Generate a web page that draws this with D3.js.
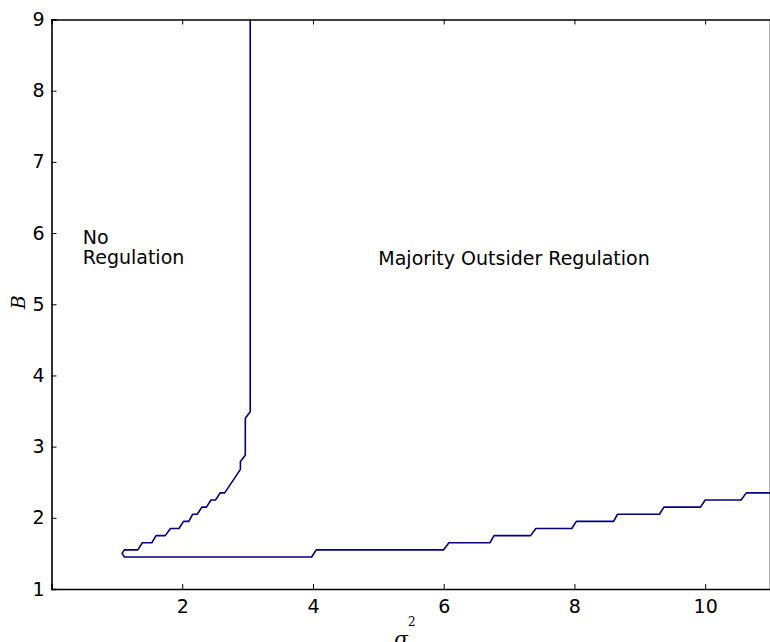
<!DOCTYPE html>
<html>
<head>
<meta charset="utf-8">
<script src="https://cdn.jsdelivr.net/npm/d3@7"></script>
<style>
  body { margin: 0; background: #fff; }
  svg { display: block; font-family: "DejaVu Sans", sans-serif; }
</style>
</head>
<body>
<div id="host"></div>
<script>
// contour boundary (sigma^2, B)
const sigmaVals = [3.04, 3.04, 2.965, 2.965, 2.89, 2.89, 2.65, 2.58, 2.51, 2.44, 2.37, 2.30, 2.23, 2.16, 2.10, 2.02, 1.95, 1.82, 1.74, 1.60, 1.535, 1.39, 1.32, 1.115, 1.08, 1.115, 3.98, 4.05, 6.0, 6.08, 6.71, 6.77, 7.33, 7.41, 7.96, 8.03, 8.6, 8.66, 9.3, 9.37, 9.93, 10.0, 10.55, 10.63, 11.0];
const bVals = [9.0, 3.49, 3.40, 2.88, 2.79, 2.68, 2.35, 2.35, 2.25, 2.25, 2.15, 2.15, 2.05, 2.05, 1.95, 1.95, 1.85, 1.85, 1.75, 1.75, 1.65, 1.65, 1.55, 1.55, 1.50, 1.45, 1.45, 1.55, 1.55, 1.65, 1.65, 1.75, 1.75, 1.85, 1.85, 1.95, 1.95, 2.05, 2.05, 2.15, 2.15, 2.25, 2.25, 2.35, 2.35];

const xTicks = [2, 4, 6, 8, 10];
const yTicks = [1, 2, 3, 4, 5, 6, 7, 8, 9];

const regionLabels = [
  { lines: ['No', 'Regulation'], sigma: 0.48, b: 5.84 },
  { lines: ['Majority Outsider Regulation'], sigma: 5.0, b: 5.55 },
];

const width = 770, height = 642;
const margin = { top: 19.5, right: 0, bottom: 53, left: 51.5 };

const svg = d3.select('#host').append('svg')
  .attr('width', width)
  .attr('height', height);

const x = d3.scaleLinear().domain([0, 11]).range([margin.left, width - margin.right + 0.5]);
const y = d3.scaleLinear().domain([1, 9]).range([height - margin.bottom, margin.top]);

// contour line
const pts = sigmaVals.map((s, i) => [s, bVals[i]]);
svg.append('path')
  .datum(pts)
  .attr('fill', 'none')
  .attr('stroke', '#00007f')
  .attr('stroke-width', 1.6)
  .attr('stroke-linejoin', 'round')
  .attr('d', d3.line().x(d => x(d[0])).y(d => y(d[1])));

// axes with inward ticks (matplotlib style)
const fs = 19;
const bottomAx = svg.append('g')
  .attr('transform', `translate(0,${y(1)})`)
  .call(d3.axisBottom(x).tickValues(xTicks).tickSize(-5).tickPadding(11));
const topAx = svg.append('g')
  .attr('transform', `translate(0,${y(9)})`)
  .call(d3.axisTop(x).tickValues(xTicks).tickSize(-5).tickFormat(''));
const leftAx = svg.append('g')
  .attr('transform', `translate(${x(0)},0)`)
  .call(d3.axisLeft(y).tickValues(yTicks).tickSize(-5).tickPadding(7));

[bottomAx, topAx, leftAx].forEach(g => {
  g.select('.domain').attr('stroke', '#000').attr('stroke-width', 1.6);
  g.selectAll('.tick line').attr('stroke', '#000').attr('stroke-width', 1);
  g.selectAll('.tick text')
    .attr('fill', '#000')
    .style('font-family', '"DejaVu Sans", sans-serif')
    .style('font-size', fs + 'px');
});
// right spine sits just past the visible edge; draw it anyway
svg.append('line')
  .attr('x1', x(11)).attr('x2', x(11))
  .attr('y1', y(1)).attr('y2', y(9))
  .attr('stroke', '#000').attr('stroke-width', 1.6);

// region labels
regionLabels.forEach(l => {
  const t = svg.append('text')
    .attr('x', x(l.sigma))
    .attr('y', y(l.b))
    .attr('font-size', fs)
    .attr('fill', '#000');
  l.lines.forEach((line, i) => {
    t.append('tspan')
      .attr('x', x(l.sigma))
      .attr('dy', i === 0 ? 0 : 20)
      .text(line);
  });
});

// axis titles
const xt = svg.append('text')
  .attr('x', 405)
  .attr('y', 646)
  .attr('text-anchor', 'middle')
  .style('font-family', '"DejaVu Serif", serif')
  .style('font-style', 'italic')
  .attr('font-size', 20)
  .text('σ');
xt.append('tspan')
  .attr('dx', 0)
  .attr('dy', -20)
  .style('font-style', 'normal')
  .attr('font-size', 12)
  .text('2');

svg.append('text')
  .attr('transform', `translate(25,${y(5) - 2}) rotate(-90)`)
  .attr('text-anchor', 'middle')
  .style('font-family', '"DejaVu Serif", serif')
  .style('font-style', 'italic')
  .attr('font-size', 19)
  .text('B');
</script>
</body>
</html>
